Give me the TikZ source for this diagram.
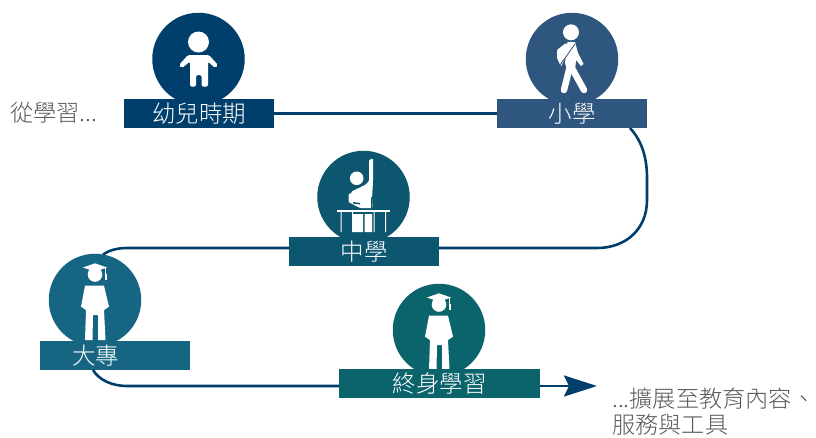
\documentclass[tikz,border=0pt]{standalone}
\usepackage{fontspec}
\setmainfont{Noto Sans CJK TC}[UprightFont=* Light]
\usetikzlibrary{arrows.meta}
\definecolor{teinteA}{HTML}{003F6B}
\definecolor{teinteB}{HTML}{2F567F}
\definecolor{teinteC}{HTML}{0D566F}
\definecolor{teinteD}{HTML}{166683}
\definecolor{teinteE}{HTML}{0B636C}
\definecolor{gristexte}{HTML}{595959}

\begin{document}
\begin{tikzpicture}[x=1pt,y=-1pt]
\tikzset{rond/.style={circle, fill=#1, minimum size=92.5pt, inner sep=0pt, outer sep=0pt}}
\tikzset{bande/.style={fill=#1, text=white, minimum width=150pt, minimum height=29pt, inner sep=0pt, outer sep=0pt, font=\fontsize{23.5}{26}\selectfont}}
\tikzset{remarque/.style={text=gristexte, inner sep=0pt, anchor=west, font=\fontsize{23.2}{26}\selectfont}}
\tikzset{trajet/.style={draw=teinteA, line width=2.6pt}}
\tikzset{diplome/.pic={
  \fill[white] (-12,-32.5) -- (0,-36.7) -- (12,-32.5) -- (0,-28.3) -- cycle;
  \fill[white] (0,-25.5) circle (7.3);
  \fill[white] (9.5,-32) rectangle (10.5,-25);
  \fill[white] (9.6,-26) rectangle (11.8,-20.5);
  \fill[white] (-10,-14.3) -- (9,-14.3) -- (14,6.7) -- (9,10) -- (10.5,40) -- (3,40) -- (3,15) -- (-2,15) -- (-2.5,40) -- (-10,40) -- (-9,10) -- (-14,6.7) -- cycle;
}}
\useasboundingbox (0,0) rectangle (816,437);

% the five discs
\node[rond=teinteA] (C1) at (198.5,59) {};
\node[rond=teinteB] (C2) at (572,59) {};
\node[rond=teinteC] (C3) at (363.5,197) {};
\node[rond=teinteD] (C4) at (95,300) {};
\node[rond=teinteE] (C5) at (439,330) {};

% baby
\fill[white] (198.5,42) circle (10.5);
\fill[white, rounded corners=1.5pt] (188,55) -- (209,55) -- (218,65) -- (215,68) -- (208,61.5) -- (208,86.7) -- (201.7,86.7) -- (201.7,75) -- (196,75) -- (196,86.7) -- (190,86.7) -- (190,61.5) -- (182,68) -- (179,65) -- cycle;

% walker
\fill[white] (571,32.3) circle (8);
\fill[white, rounded corners=1pt] (557,50) -- (566,43) -- (571,46) -- (561,66.5) -- (557,58) -- cycle;
\fill[white] (567.5,42) -- (575,42) -- (578,53) -- (583.5,64) -- (581,66) -- (576,60) -- (575,72) -- (567.5,72) -- (565,63) -- cycle;
\draw[white, line width=6.5pt, line cap=round] (569,70) -- (564,90);
\draw[white, line width=6.5pt, line cap=round] (573,70) -- (584,90);
\draw[teinteB, line width=0.8pt] (575,44) -- (560,65);

% pupil with raised arm
\fill[white] (356.7,178.3) circle (6.8);
\fill[white, rounded corners=1pt] (348.5,202) -- (348.5,194) -- (352,193) -- (351.5,191.5) -- (365,185) -- (369,181) -- (369,160) -- (373,158.5) -- (373,181) -- (372,199) -- (372.5,208) -- (360,208) -- cycle;
\fill[white] (352.5,214) rectangle (363,232) (364.5,214) rectangle (372,232);
\fill[white] (336.7,209.8) rectangle (390,211.6);
\fill[white] (340.5,211) rectangle (341.5,232) (352,211) rectangle (353,232) (373.5,211) rectangle (374.5,232) (385,211) rectangle (386,232);
\fill[teinteC] (353,202) -- (360,203) -- (360,204.5) -- (353,203.5) -- cycle;
\fill[teinteC] (370.5,197) rectangle (371.2,208);

% graduates
\pic at (C4.center) {diplome};
\pic at (C5.center) {diplome};

% the labels
\node[bande=teinteA] (V1) at (199,113.5) {幼兒時期};
\node[bande=teinteB] (V2) at (572,113.5) {小學};
\node[bande=teinteC] (V3) at (364,251.5) {中學};
\node[bande=teinteD] (V4) at (115,355.5) {大專\kern39pt};
\node[bande=teinteE, minimum width=201pt] (V5) at (439.5,383.5) {終身學習};

\node[remarque] (N1) at (10,112.5) {從學習...};
\node[remarque] (N2) at (612,399) {...擴展至教育內容、};
\node[remarque, text depth=3pt, text height=17pt] (N3) at (612,426.5) {服務與工具};

% the path
\coordinate (fin) at (597,386);
\draw[trajet] (V1.east) -- (V2.west);
\draw[trajet] ([xshift=-17pt]V2.south east) .. controls (643,142) and (647,160) .. (647,178) -- (647,200) .. controls (647,230) and (625,248) .. (597,248) -- ([yshift=3.5pt]V3.east);
\draw[trajet] ([yshift=3.5pt]V3.west) -- (127,248) .. controls (116,248) and (108,251) .. (C4.80);
\draw[trajet] ([xshift=53pt]V4.south west) .. controls (99,380) and (112,386) .. (127,386) -- ([yshift=-2.5pt]V5.west);
\draw[trajet, -{Stealth[length=33pt,width=21pt,inset=5pt]}] ([yshift=-2.5pt]V5.east) -- (fin);
\end{tikzpicture}
\end{document}
